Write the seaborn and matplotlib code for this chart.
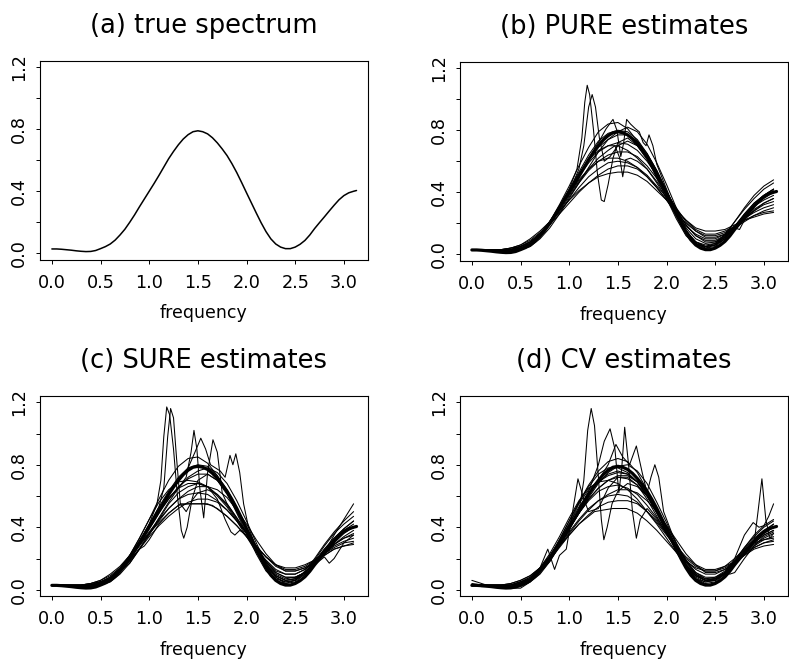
import matplotlib
matplotlib.use("Agg")
import matplotlib.pyplot as plt
import seaborn as sns
import pandas as pd

# ---------------- data ----------------
freq = [0.0, 0.1, 0.2, 0.3, 0.4, 0.5, 0.6, 0.7,
        0.8, 0.9, 1.0, 1.1, 1.2, 1.3, 1.4, 1.5,
        1.6, 1.7, 1.8, 1.9, 2.0, 2.1, 2.2, 2.3,
        2.4, 2.5, 2.6, 2.7, 2.8, 2.9, 3.0, 3.1]

# true spectrum, read on a finer frequency grid
freq_fine = [0.00, 0.05, 0.10, 0.15, 0.20, 0.25, 0.30, 0.35, 0.40, 0.45,
             0.50, 0.55, 0.60, 0.65, 0.70, 0.75, 0.80, 0.85, 0.90, 0.95,
             1.00, 1.05, 1.10, 1.15, 1.20, 1.25, 1.30, 1.35, 1.40, 1.45,
             1.50, 1.55, 1.60, 1.65, 1.70, 1.75, 1.80, 1.85, 1.90, 1.95,
             2.00, 2.05, 2.10, 2.15, 2.20, 2.25, 2.30, 2.35, 2.40, 2.45,
             2.50, 2.55, 2.60, 2.65, 2.70, 2.75, 2.80, 2.85, 2.90, 2.95,
             3.00, 3.05, 3.10, 3.13]
true_spec = [.028, .028, .026, .023, .020, .016, .013, .011, .012, .018,
             .030, .043, .060, .085, .118, .155, .200, .248, .300, .350,
             .400, .450, .502, .556, .610, .657, .700, .737, .765, .784,
             .790, .784, .770, .745, .712, .673, .630, .578, .520, .456,
             .390, .325, .260, .197, .140, .093, .060, .040, .030, .030,
             .040, .058, .083, .118, .160, .198, .235, .273, .310, .345,
             .372, .390, .400, .405]

# ---- (b) PURE estimates: smooth ones on the common grid ----
pure_1 = [.03, .03, .02, .02, .02, .03, .06, .12, .21, .32, .44, .57, .69, .79, .84, .85,
          .81, .73, .62, .49, .36, .23, .12, .06, .05, .07, .13, .21, .29, .36, .42, .46]
pure_2 = [.03, .03, .02, .02, .03, .04, .07, .13, .21, .31, .42, .53, .64, .73, .78, .80,
          .79, .74, .65, .54, .41, .28, .17, .10, .07, .08, .12, .18, .25, .31, .35, .38]
pure_3 = [.03, .03, .02, .02, .03, .05, .08, .13, .21, .30, .40, .50, .59, .66, .70, .72,
          .71, .67, .60, .51, .40, .29, .19, .12, .09, .09, .12, .17, .23, .28, .32, .34]
pure_4 = [.03, .03, .03, .03, .03, .05, .08, .13, .20, .28, .37, .46, .54, .60, .64, .66,
          .66, .63, .57, .49, .40, .30, .21, .15, .11, .11, .13, .17, .21, .25, .28, .30]
pure_5 = [.03, .03, .03, .03, .04, .06, .09, .14, .20, .27, .35, .43, .50, .55, .59, .60,
          .59, .56, .51, .44, .37, .29, .22, .16, .13, .13, .15, .18, .22, .25, .27, .28]
pure_6 = [.03, .03, .03, .03, .04, .06, .10, .15, .21, .28, .35, .41, .46, .50, .52, .53,
          .53, .51, .47, .41, .35, .28, .22, .17, .15, .15, .16, .19, .22, .24, .26, .27]
pure_7 = [.03, .03, .02, .02, .02, .03, .06, .11, .19, .29, .40, .51, .61, .69, .74, .77,
          .77, .73, .65, .54, .41, .27, .15, .07, .04, .05, .10, .18, .26, .33, .38, .42]
pure_8 = [.03, .03, .02, .02, .02, .04, .07, .12, .20, .30, .41, .52, .61, .67, .70, .70,
          .67, .62, .55, .46, .36, .25, .15, .08, .06, .07, .11, .18, .25, .31, .36, .40]
pure_9 = [.03, .03, .02, .02, .02, .03, .05, .10, .17, .26, .36, .46, .56, .66, .74, .79,
          .82, .79, .71, .59, .45, .30, .16, .07, .04, .06, .12, .21, .30, .38, .44, .48]
pure_10 = [.03, .03, .03, .03, .03, .05, .08, .13, .21, .30, .39, .48, .55, .60, .62, .62,
           .60, .56, .50, .43, .35, .26, .18, .13, .10, .10, .13, .18, .23, .27, .30, .32]
pure_11 = [.03, .03, .03, .03, .04, .05, .08, .13, .19, .26, .33, .40, .46, .51, .55, .57,
           .57, .55, .50, .43, .35, .27, .20, .15, .12, .12, .14, .18, .23, .28, .33, .36]

# ---- (b) PURE: wiggly estimates with their own frequencies ----
pure_w1_x = [0, .2, .4, .6, .8, 1.0, 1.08, 1.13, 1.16, 1.185, 1.21, 1.25, 1.29, 1.33, 1.36, 1.40, 1.45,
             1.5, 1.6, 1.7, 1.8, 1.9, 2.0, 2.1, 2.2, 2.3, 2.4, 2.5, 2.6, 2.7, 2.8, 2.9, 3.0, 3.1]
pure_w1_y = [.03, .02, .02, .06, .20, .42, .55, .75, .98, 1.09, 1.03, .80, .52, .35, .34, .45, .62,
             .72, .75, .70, .61, .50, .38, .25, .14, .07, .05, .06, .10, .17, .25, .32, .37, .41]
pure_w2_x = [0, .2, .4, .6, .8, 1.0, 1.1, 1.15, 1.2, 1.236, 1.27, 1.31, 1.36, 1.42, 1.5, 1.6,
             1.7, 1.8, 1.9, 2.0, 2.1, 2.2, 2.3, 2.4, 2.5, 2.6, 2.7, 2.8, 2.9, 3.0, 3.1]
pure_w2_y = [.03, .02, .02, .06, .19, .40, .55, .70, .95, 1.03, .95, .75, .60, .63, .70, .73,
             .70, .62, .52, .40, .27, .15, .08, .05, .06, .10, .17, .25, .32, .38, .42]
pure_w3_x = [0, .2, .4, .6, .8, 1.0, 1.1, 1.2, 1.3, 1.38, 1.45, 1.49, 1.53, 1.56, 1.59, 1.63, 1.68, 1.72,
             1.76, 1.79, 1.82, 1.86, 1.9, 1.95, 2.0, 2.1, 2.2, 2.3, 2.4, 2.5, 2.6, 2.7, 2.8, 2.9, 3.0, 3.1]
pure_w3_y = [.03, .02, .02, .06, .19, .40, .51, .62, .72, .81, .87, .80, .63, .72, .87, .84, .81, .79,
             .72, .70, .77, .70, .58, .50, .42, .27, .15, .08, .05, .06, .11, .18, .26, .33, .38, .42]
pure_w4_x = [0, .2, .4, .6, .8, 1.0, 1.1, 1.2, 1.3, 1.4, 1.47, 1.52, 1.55, 1.58, 1.63, 1.7, 1.8,
             1.9, 2.0, 2.1, 2.2, 2.3, 2.4, 2.5, 2.6, 2.7, 2.75, 2.8, 2.9, 3.0, 3.1]
pure_w4_y = [.03, .02, .03, .07, .20, .38, .47, .55, .62, .67, .70, .62, .50, .61, .62, .60, .55,
             .47, .38, .28, .19, .12, .08, .08, .11, .17, .16, .22, .29, .33, .36]

# ---- (c) SURE estimates ----
sure_1 = [.03, .03, .02, .02, .02, .03, .06, .12, .22, .33, .45, .58, .70, .79, .84, .85,
          .81, .73, .62, .49, .36, .23, .12, .06, .04, .06, .12, .20, .29, .37, .44, .50]
sure_2 = [.03, .03, .02, .02, .03, .04, .07, .13, .21, .31, .42, .53, .63, .72, .78, .80,
          .79, .73, .64, .53, .40, .27, .16, .09, .06, .07, .11, .18, .26, .33, .39, .44]
sure_3 = [.03, .03, .02, .02, .03, .04, .07, .12, .20, .29, .39, .49, .58, .66, .71, .74,
          .74, .70, .62, .52, .40, .28, .18, .11, .08, .08, .11, .17, .23, .29, .33, .36]
sure_4 = [.03, .03, .03, .03, .03, .05, .08, .14, .22, .31, .41, .51, .59, .65, .68, .68,
          .66, .61, .54, .45, .36, .26, .18, .12, .10, .10, .13, .18, .23, .28, .31, .33]
sure_5 = [.03, .03, .03, .03, .04, .06, .09, .14, .21, .29, .37, .45, .52, .58, .61, .62,
          .61, .57, .51, .44, .36, .28, .21, .15, .12, .12, .14, .18, .22, .26, .28, .29]
sure_6 = [.03, .03, .03, .03, .04, .06, .10, .15, .22, .29, .36, .43, .49, .54, .55, .55,
          .55, .52, .47, .41, .34, .27, .21, .16, .14, .14, .16, .19, .23, .27, .30, .31]
sure_7 = [.03, .03, .02, .02, .02, .03, .05, .10, .17, .26, .36, .46, .56, .65, .72, .76,
          .78, .75, .68, .57, .44, .30, .17, .08, .04, .05, .10, .19, .28, .36, .42, .47]
sure_8 = [.03, .03, .02, .02, .02, .04, .07, .13, .22, .33, .45, .56, .64, .69, .70, .69,
          .66, .60, .53, .44, .34, .24, .15, .09, .06, .07, .11, .18, .25, .32, .37, .40]
sure_9 = [.03, .03, .03, .03, .03, .05, .08, .13, .20, .28, .36, .44, .52, .58, .63, .66,
          .66, .64, .59, .51, .42, .32, .23, .16, .12, .12, .14, .18, .22, .26, .28, .30]
sure_10 = [.03, .03, .03, .03, .04, .05, .08, .13, .19, .26, .34, .41, .47, .52, .56, .58,
           .58, .56, .51, .44, .36, .28, .21, .16, .13, .13, .15, .19, .24, .29, .33, .35]

sure_w1_x = [0, .2, .4, .6, .8, 1.0, 1.08, 1.12, 1.15, 1.18, 1.21, 1.25, 1.29, 1.33, 1.355, 1.39, 1.44,
             1.5, 1.6, 1.7, 1.8, 1.9, 2.0, 2.1, 2.2, 2.3, 2.4, 2.5, 2.6, 2.7, 2.8, 2.9, 3.0, 3.1]
sure_w1_y = [.03, .02, .02, .06, .20, .42, .55, .70, .98, 1.17, 1.12, .90, .60, .38, .33, .40, .58,
             .70, .74, .70, .61, .50, .38, .25, .14, .07, .05, .06, .10, .17, .25, .32, .38, .42]
sure_w2_x = [0, .2, .4, .6, .8, 1.0, 1.1, 1.15, 1.19, 1.22, 1.25, 1.28, 1.32, 1.38, 1.45, 1.5,
             1.6, 1.7, 1.8, 1.9, 2.0, 2.1, 2.2, 2.3, 2.4, 2.5, 2.6, 2.7, 2.8, 2.9, 3.0, 3.1]
sure_w2_y = [.03, .02, .02, .06, .19, .41, .53, .65, .98, 1.16, 1.10, .85, .55, .50, .58, .62,
             .64, .61, .55, .46, .37, .27, .18, .11, .08, .08, .11, .17, .23, .29, .34, .38]
sure_w3_x = [0, .2, .4, .6, .8, 1.0, 1.1, 1.2, 1.3, 1.38, 1.43, 1.46, 1.49, 1.52, 1.56, 1.6, 1.655,
             1.7, 1.75, 1.8, 1.9, 2.0, 2.1, 2.2, 2.3, 2.4, 2.5, 2.6, 2.7, 2.8, 2.9, 3.0, 3.1]
sure_w3_y = [.03, .02, .03, .07, .20, .40, .50, .58, .65, .72, .88, 1.02, .90, .65, .46, .75, .96,
             .88, .62, .55, .46, .36, .25, .16, .09, .06, .07, .11, .17, .24, .30, .36, .40]
sure_w4_x = [0, .2, .4, .6, .8, 1.0, 1.1, 1.2, 1.3, 1.4, 1.47, 1.53, 1.58, 1.63, 1.68, 1.73, 1.78,
             1.83, 1.86, 1.89, 1.93, 1.97, 2.02, 2.1, 2.2, 2.3, 2.4, 2.5, 2.6, 2.7, 2.8, 2.9, 3.0, 3.1]
sure_w4_y = [.03, .02, .02, .06, .19, .41, .52, .62, .70, .78, .88, .97, .90, .80, .78, .76, .72,
             .86, .80, .87, .75, .55, .40, .27, .15, .08, .05, .06, .11, .18, .26, .33, .39, .44]
sure_w5_x = [0, .2, .4, .6, .8, 1.0, 1.1, 1.2, 1.3, 1.4, 1.5, 1.6, 1.7, 1.78, 1.84, 1.88, 1.93,
             2.0, 2.1, 2.2, 2.3, 2.4, 2.5, 2.6, 2.7, 2.8, 2.85, 2.9, 3.0, 3.1]
sure_w5_y = [.03, .02, .03, .07, .18, .35, .45, .55, .62, .66, .68, .66, .58, .45, .37, .35, .38,
             .35, .26, .17, .10, .07, .08, .11, .16, .21, .17, .20, .30, .35]
sure_w6_x = [0, .2, .4, .6, .8, .9, .95, 1.0, 1.1, 1.2, 1.32, 1.45, 1.56, 1.65, 1.8, 1.9, 2.0,
             2.1, 2.2, 2.3, 2.4, 2.5, 2.6, 2.7, 2.8, 2.9, 3.0, 3.1]
sure_w6_y = [.03, .02, .03, .07, .17, .26, .28, .32, .42, .49, .55, .55, .55, .54, .47, .41, .34,
             .26, .19, .13, .10, .10, .13, .18, .24, .35, .45, .55]

# ---- (d) CV estimates ----
cv_1 = [.03, .03, .02, .02, .02, .03, .06, .12, .21, .32, .44, .56, .67, .76, .82, .84,
        .82, .75, .64, .51, .38, .25, .14, .07, .05, .06, .11, .19, .27, .34, .40, .44]
cv_2 = [.04, .03, .02, .01, .01, .03, .06, .12, .21, .32, .44, .56, .66, .74, .78, .78,
        .75, .69, .60, .49, .37, .25, .15, .08, .05, .06, .10, .17, .24, .31, .36, .40]
cv_3 = [.03, .03, .02, .02, .03, .04, .07, .12, .20, .29, .39, .49, .58, .65, .70, .73,
        .73, .69, .62, .52, .40, .28, .18, .11, .08, .08, .11, .17, .23, .29, .33, .36]
cv_4 = [.03, .03, .03, .03, .03, .05, .08, .14, .22, .31, .40, .49, .57, .63, .66, .67,
        .65, .61, .54, .46, .37, .28, .19, .13, .10, .10, .13, .17, .22, .27, .30, .32]
cv_5 = [.03, .03, .03, .03, .04, .06, .09, .14, .21, .29, .37, .45, .52, .57, .60, .61,
        .60, .56, .50, .43, .35, .27, .20, .15, .12, .12, .14, .18, .22, .26, .28, .29]
cv_6 = [.03, .02, .02, .01, .01, .02, .05, .10, .18, .28, .39, .49, .59, .68, .75, .79,
        .80, .76, .68, .56, .43, .29, .16, .07, .03, .04, .09, .18, .27, .35, .41, .45]
cv_7 = [.03, .03, .02, .02, .02, .04, .07, .14, .23, .34, .46, .57, .65, .69, .70, .68,
        .64, .58, .50, .42, .33, .24, .15, .09, .06, .07, .11, .17, .24, .30, .35, .38]
cv_8 = [.03, .03, .03, .03, .03, .05, .08, .13, .20, .28, .36, .44, .51, .57, .61, .64,
        .64, .62, .57, .50, .41, .32, .23, .16, .11, .11, .13, .18, .23, .28, .32, .34]
cv_9 = [.03, .03, .03, .03, .04, .06, .09, .14, .21, .28, .35, .42, .48, .53, .56, .57,
        .57, .55, .50, .44, .36, .28, .21, .16, .13, .13, .15, .18, .23, .27, .30, .31]
cv_10 = [.03, .03, .02, .02, .02, .04, .07, .12, .21, .31, .42, .53, .62, .69, .73, .75,
         .74, .69, .61, .51, .39, .27, .16, .09, .06, .07, .11, .18, .26, .33, .38, .42]

cv_w1_x = [0, .2, .4, .6, .8, 1.0, 1.1, 1.15, 1.19, 1.226, 1.26, 1.3, 1.33, 1.356, 1.39, 1.44, 1.5,
           1.6, 1.7, 1.8, 1.9, 2.0, 2.1, 2.2, 2.3, 2.4, 2.5, 2.6, 2.7, 2.8, 2.9, 3.0, 3.1]
cv_w1_y = [.03, .02, .02, .06, .18, .38, .50, .70, 1.02, 1.16, 1.05, .72, .45, .32, .40, .55, .63,
           .68, .66, .60, .50, .38, .26, .16, .09, .06, .07, .11, .17, .24, .30, .35, .38]
cv_w2_x = [0, .2, .4, .6, .8, 1.0, 1.1, 1.2, 1.3, 1.36, 1.42, 1.47, 1.51, 1.54, 1.57, 1.61, 1.65,
           1.69, 1.73, 1.8, 1.9, 2.0, 2.1, 2.2, 2.3, 2.4, 2.5, 2.6, 2.7, 2.8, 2.9, 3.0, 3.1]
cv_w2_y = [.03, .02, .03, .07, .19, .40, .52, .63, .80, .95, 1.03, .90, .62, .78, 1.04, .80, .50,
           .33, .45, .52, .45, .36, .26, .17, .10, .07, .08, .12, .18, .25, .31, .36, .40]
cv_w3_x = [0, .2, .4, .6, .8, 1.0, 1.1, 1.2, 1.3, 1.4, 1.48, 1.55, 1.62, 1.69, 1.75, 1.8, 1.84,
           1.88, 1.92, 1.97, 2.05, 2.1, 2.2, 2.3, 2.4, 2.5, 2.6, 2.7, 2.8, 2.9, 3.0, 3.1]
cv_w3_y = [.03, .02, .02, .06, .20, .42, .55, .64, .70, .80, .93, .85, .80, .92, .75, .62, .72,
           .80, .72, .50, .37, .30, .18, .10, .06, .06, .10, .17, .25, .32, .37, .42]
cv_w4_x = [0, .2, .4, .5, .6, .7, .78, .85, .9, .97, 1.03, 1.09, 1.15, 1.2, 1.3, 1.4, 1.5, 1.6,
           1.7, 1.8, 1.9, 2.0, 2.1, 2.2, 2.3, 2.4, 2.5, 2.6, 2.65, 2.7, 2.8, 2.9, 3.0, 3.1]
cv_w4_y = [.06, .02, .01, .01, .05, .14, .26, .13, .22, .26, .48, .71, .58, .50, .52, .65, .72, .72,
           .67, .58, .47, .36, .25, .16, .09, .06, .07, .11, .10, .11, .20, .28, .34, .37]
cv_w5_x = [0, .2, .4, .6, .8, 1.0, 1.1, 1.2, 1.3, 1.4, 1.5, 1.6, 1.7, 1.8, 1.9, 2.0, 2.1, 2.2,
           2.3, 2.4, 2.5, 2.6, 2.7, 2.8, 2.9, 2.94, 2.98, 3.02, 3.06, 3.1]
cv_w5_y = [.03, .02, .02, .06, .19, .39, .49, .58, .65, .70, .72, .71, .67, .60, .51, .41, .30, .19,
           .11, .07, .07, .10, .16, .23, .30, .50, .71, .45, .33, .36]
cv_w6_x = [0, .2, .4, .6, .8, 1.0, 1.1, 1.2, 1.26, 1.35, 1.45, 1.59, 1.7, 1.8, 1.9, 2.0, 2.1,
           2.2, 2.3, 2.4, 2.5, 2.6, 2.7, 2.8, 2.9, 3.0, 3.1]
cv_w6_y = [.03, .03, .03, .07, .19, .35, .42, .47, .50, .51, .52, .52, .49, .44, .38, .31, .24,
           .18, .14, .12, .12, .15, .20, .26, .30, .32, .33]
cv_w7_x = [0, .2, .4, .6, .8, 1.0, 1.1, 1.2, 1.3, 1.4, 1.5, 1.6, 1.7, 1.8, 1.9, 2.0, 2.1, 2.2,
           2.3, 2.4, 2.5, 2.6, 2.7, 2.8, 2.89, 2.95, 3.0, 3.05, 3.1]
cv_w7_y = [.03, .02, .02, .06, .19, .40, .51, .61, .69, .74, .76, .74, .69, .60, .49, .37, .25, .14,
           .07, .04, .05, .10, .20, .35, .43, .40, .41, .47, .55]

titles = ["(a) true spectrum", "(b) PURE estimates", "(c) SURE estimates", "(d) CV estimates"]
xlabel = "frequency"
xtick_vals = [0.0, 0.5, 1.0, 1.5, 2.0, 2.5, 3.0]
xtick_labels = ["0.0", "0.5", "1.0", "1.5", "2.0", "2.5", "3.0"]
ytick_vals = [0.0, 0.2, 0.4, 0.6, 0.8, 1.0, 1.2]
ytick_labels = ["0.0", "", "0.4", "", "0.8", "", "1.2"]

# ---------------- build long table ----------------
rows = []
def add(panel, name, xs, ys, kind):
    assert len(xs) == len(ys), (name, len(xs), len(ys))
    for xv, yv in zip(xs, ys):
        rows.append({"panel": panel, "curve": name, "freq": xv, "spec": yv, "kind": kind})

for p in "abcd":
    add(p, "true", freq_fine, true_spec, "true")

smooth = {
    "b": [pure_1, pure_2, pure_3, pure_4, pure_5, pure_6, pure_7, pure_8, pure_9, pure_10, pure_11],
    "c": [sure_1, sure_2, sure_3, sure_4, sure_5, sure_6, sure_7, sure_8, sure_9, sure_10],
    "d": [cv_1, cv_2, cv_3, cv_4, cv_5, cv_6, cv_7, cv_8, cv_9, cv_10],
}
wiggly = {
    "b": [(pure_w1_x, pure_w1_y), (pure_w2_x, pure_w2_y), (pure_w3_x, pure_w3_y), (pure_w4_x, pure_w4_y)],
    "c": [(sure_w1_x, sure_w1_y), (sure_w2_x, sure_w2_y), (sure_w3_x, sure_w3_y),
          (sure_w4_x, sure_w4_y), (sure_w5_x, sure_w5_y), (sure_w6_x, sure_w6_y)],
    "d": [(cv_w1_x, cv_w1_y), (cv_w2_x, cv_w2_y), (cv_w3_x, cv_w3_y), (cv_w4_x, cv_w4_y),
          (cv_w5_x, cv_w5_y), (cv_w6_x, cv_w6_y), (cv_w7_x, cv_w7_y)],
}
for p in "bcd":
    for i, ys in enumerate(smooth[p]):
        add(p, f"s{i}", freq, ys, "est")
    for i, (xs, ys) in enumerate(wiggly[p]):
        add(p, f"w{i}", xs, ys, "est")

df = pd.DataFrame(rows)

# ---------------- plot ----------------
sns.set_style("ticks")
plt.rcParams["font.family"] = ["DejaVu Sans"]
plt.rcParams["text.color"] = "black"
plt.rcParams["axes.labelcolor"] = "black"
plt.rcParams["xtick.color"] = "black"
plt.rcParams["ytick.color"] = "black"
plt.rcParams["axes.edgecolor"] = "black"

fig = plt.figure(figsize=(7.89, 6.64), dpi=100)
W, H = 789.0, 664.0
boxes = {
    "a": (39.5, 61.0, 328.5, 198.5),
    "b": (459.5, 62.0, 328.5, 198.5),
    "c": (39.5, 396.0, 328.5, 200.0),
    "d": (459.5, 396.0, 328.5, 200.0),
}

for p, title in zip("abcd", titles):
    x0, y0, w, h = boxes[p]
    ax = fig.add_axes([x0 / W, 1 - (y0 + h) / H, w / W, h / H])
    sub = df[df.panel == p]
    est = sub[sub.kind == "est"]
    tru = sub[sub.kind == "true"]
    if len(est):
        sns.lineplot(data=est, x="freq", y="spec", units="curve", estimator=None,
                     color="black", linewidth=0.75, ax=ax, legend=False)
        sns.lineplot(data=tru, x="freq", y="spec", estimator=None,
                     color="black", linewidth=2.3, ax=ax, legend=False)
    else:
        sns.lineplot(data=tru, x="freq", y="spec", estimator=None,
                     color="black", linewidth=1.1, ax=ax, legend=False)

    ax.set_xlim(-0.127, 3.248)
    ax.set_ylim(-0.04, 1.24)
    ax.set_xticks(xtick_vals)
    ax.set_xticklabels(xtick_labels)
    ax.set_yticks(ytick_vals)
    ax.set_yticklabels(ytick_labels, rotation=90, va="center")
    for s in ax.spines.values():
        s.set_visible(True)
        s.set_linewidth(0.8)
        s.set_color("black")
    ax.tick_params(axis="both", direction="out", length=3, width=0.7, labelsize=12.7,
                   colors="black")
    ax.tick_params(axis="x", pad=7.4)
    ax.tick_params(axis="y", pad=5.5)
    ax.set_ylabel("")
    ax.set_xlabel(xlabel, fontsize=12.5, color="black")
    ax.xaxis.set_label_coords(0.5, -45.0 / h)
    ax.set_title(title, fontsize=18.5, pad=20, color="black")

fig.savefig("out.png", dpi=100)
